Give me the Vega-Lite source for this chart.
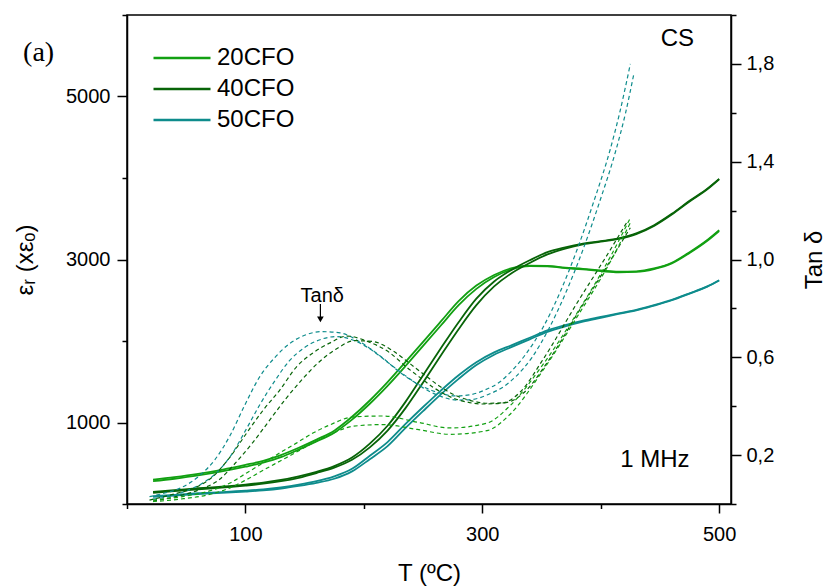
{
  "$schema": "https://vega.github.io/schema/vega-lite/v6.json",
  "width": 604,
  "height": 489,
  "autosize": {"type": "none"},
  "padding": {"left": 127, "top": 15, "right": 98, "bottom": 82},
  "background": "white",
  "config": {
    "font": "Liberation Sans",
    "view": {"stroke": "black", "strokeWidth": 1.5},
    "axis": {
      "grid": false,
      "domainColor": "black",
      "domainWidth": 1.5,
      "tickColor": "black",
      "tickWidth": 1.5,
      "labelFont": "Liberation Sans",
      "labelFontSize": 20,
      "labelColor": "black",
      "labelOverlap": false,
      "labelFlush": false,
      "titleFont": "Liberation Sans",
      "titleFontSize": 24,
      "titleFontWeight": "normal",
      "titleColor": "black"
    },
    "legend": {"labelFont": "Liberation Sans", "labelColor": "black"}
  },
  "datasets": {
    "eps": [
      {"s":"20CFO","r":"a","T":22,"e":300},{"s":"20CFO","r":"a","T":40,"e":330},{"s":"20CFO","r":"a","T":60,"e":370},{"s":"20CFO","r":"a","T":80,"e":420},{"s":"20CFO","r":"a","T":100,"e":480},{"s":"20CFO","r":"a","T":115,"e":530},{"s":"20CFO","r":"a","T":130,"e":600},{"s":"20CFO","r":"a","T":145,"e":690},{"s":"20CFO","r":"a","T":160,"e":790},{"s":"20CFO","r":"a","T":175,"e":900},{"s":"20CFO","r":"a","T":190,"e":1070},{"s":"20CFO","r":"a","T":205,"e":1270},{"s":"20CFO","r":"a","T":220,"e":1495},{"s":"20CFO","r":"a","T":235,"e":1740},{"s":"20CFO","r":"a","T":250,"e":1990},{"s":"20CFO","r":"a","T":265,"e":2240},{"s":"20CFO","r":"a","T":280,"e":2490},{"s":"20CFO","r":"a","T":295,"e":2680},{"s":"20CFO","r":"a","T":310,"e":2810},{"s":"20CFO","r":"a","T":325,"e":2895},{"s":"20CFO","r":"a","T":340,"e":2925},{"s":"20CFO","r":"a","T":355,"e":2920},{"s":"20CFO","r":"a","T":370,"e":2900},{"s":"20CFO","r":"a","T":385,"e":2885},{"s":"20CFO","r":"a","T":400,"e":2865},{"s":"20CFO","r":"a","T":415,"e":2850},{"s":"20CFO","r":"a","T":430,"e":2855},{"s":"20CFO","r":"a","T":445,"e":2890},{"s":"20CFO","r":"a","T":460,"e":2960},{"s":"20CFO","r":"a","T":475,"e":3090},{"s":"20CFO","r":"a","T":490,"e":3240},{"s":"20CFO","r":"a","T":500,"e":3360},
      {"s":"20CFO","r":"b","T":22,"e":280},{"s":"20CFO","r":"b","T":40,"e":310},{"s":"20CFO","r":"b","T":60,"e":350},{"s":"20CFO","r":"b","T":80,"e":400},{"s":"20CFO","r":"b","T":100,"e":458},{"s":"20CFO","r":"b","T":115,"e":508},{"s":"20CFO","r":"b","T":130,"e":575},{"s":"20CFO","r":"b","T":145,"e":668},{"s":"20CFO","r":"b","T":160,"e":768},{"s":"20CFO","r":"b","T":175,"e":875},{"s":"20CFO","r":"b","T":190,"e":1035},{"s":"20CFO","r":"b","T":205,"e":1230},{"s":"20CFO","r":"b","T":220,"e":1450},{"s":"20CFO","r":"b","T":235,"e":1690},{"s":"20CFO","r":"b","T":250,"e":1940},{"s":"20CFO","r":"b","T":265,"e":2190},{"s":"20CFO","r":"b","T":280,"e":2440},{"s":"20CFO","r":"b","T":295,"e":2640},{"s":"20CFO","r":"b","T":310,"e":2785},{"s":"20CFO","r":"b","T":325,"e":2880},{"s":"20CFO","r":"b","T":340,"e":2918},{"s":"20CFO","r":"b","T":355,"e":2915},{"s":"20CFO","r":"b","T":370,"e":2895},{"s":"20CFO","r":"b","T":385,"e":2878},{"s":"20CFO","r":"b","T":400,"e":2858},{"s":"20CFO","r":"b","T":415,"e":2843},{"s":"20CFO","r":"b","T":430,"e":2848},{"s":"20CFO","r":"b","T":445,"e":2883},{"s":"20CFO","r":"b","T":460,"e":2952},{"s":"20CFO","r":"b","T":475,"e":3080},{"s":"20CFO","r":"b","T":490,"e":3230},{"s":"20CFO","r":"b","T":500,"e":3350},
      {"s":"40CFO","r":"a","T":22,"e":150},{"s":"40CFO","r":"a","T":40,"e":170},{"s":"40CFO","r":"a","T":60,"e":193},{"s":"40CFO","r":"a","T":80,"e":213},{"s":"40CFO","r":"a","T":100,"e":238},{"s":"40CFO","r":"a","T":115,"e":262},{"s":"40CFO","r":"a","T":130,"e":295},{"s":"40CFO","r":"a","T":145,"e":340},{"s":"40CFO","r":"a","T":160,"e":395},{"s":"40CFO","r":"a","T":175,"e":465},{"s":"40CFO","r":"a","T":190,"e":570},{"s":"40CFO","r":"a","T":205,"e":740},{"s":"40CFO","r":"a","T":220,"e":960},{"s":"40CFO","r":"a","T":235,"e":1250},{"s":"40CFO","r":"a","T":250,"e":1580},{"s":"40CFO","r":"a","T":265,"e":1910},{"s":"40CFO","r":"a","T":280,"e":2230},{"s":"40CFO","r":"a","T":295,"e":2520},{"s":"40CFO","r":"a","T":310,"e":2730},{"s":"40CFO","r":"a","T":325,"e":2875},{"s":"40CFO","r":"a","T":340,"e":2990},{"s":"40CFO","r":"a","T":355,"e":3090},{"s":"40CFO","r":"a","T":370,"e":3150},{"s":"40CFO","r":"a","T":385,"e":3195},{"s":"40CFO","r":"a","T":400,"e":3225},{"s":"40CFO","r":"a","T":415,"e":3260},{"s":"40CFO","r":"a","T":430,"e":3320},{"s":"40CFO","r":"a","T":445,"e":3420},{"s":"40CFO","r":"a","T":460,"e":3560},{"s":"40CFO","r":"a","T":475,"e":3720},{"s":"40CFO","r":"a","T":490,"e":3870},{"s":"40CFO","r":"a","T":500,"e":3990},
      {"s":"40CFO","r":"b","T":22,"e":138},{"s":"40CFO","r":"b","T":40,"e":158},{"s":"40CFO","r":"b","T":60,"e":181},{"s":"40CFO","r":"b","T":80,"e":201},{"s":"40CFO","r":"b","T":100,"e":226},{"s":"40CFO","r":"b","T":115,"e":249},{"s":"40CFO","r":"b","T":130,"e":280},{"s":"40CFO","r":"b","T":145,"e":322},{"s":"40CFO","r":"b","T":160,"e":380},{"s":"40CFO","r":"b","T":175,"e":446},{"s":"40CFO","r":"b","T":190,"e":542},{"s":"40CFO","r":"b","T":205,"e":695},{"s":"40CFO","r":"b","T":220,"e":901},{"s":"40CFO","r":"b","T":235,"e":1173},{"s":"40CFO","r":"b","T":250,"e":1492},{"s":"40CFO","r":"b","T":265,"e":1822},{"s":"40CFO","r":"b","T":280,"e":2145},{"s":"40CFO","r":"b","T":295,"e":2440},{"s":"40CFO","r":"b","T":310,"e":2670},{"s":"40CFO","r":"b","T":325,"e":2835},{"s":"40CFO","r":"b","T":340,"e":2958},{"s":"40CFO","r":"b","T":355,"e":3063},{"s":"40CFO","r":"b","T":370,"e":3134},{"s":"40CFO","r":"b","T":385,"e":3185},{"s":"40CFO","r":"b","T":400,"e":3218},{"s":"40CFO","r":"b","T":415,"e":3253},{"s":"40CFO","r":"b","T":430,"e":3312},{"s":"40CFO","r":"b","T":445,"e":3412},{"s":"40CFO","r":"b","T":460,"e":3552},{"s":"40CFO","r":"b","T":475,"e":3712},{"s":"40CFO","r":"b","T":490,"e":3862},{"s":"40CFO","r":"b","T":500,"e":3985},
      {"s":"50CFO","r":"a","T":22,"e":97},{"s":"50CFO","r":"a","T":40,"e":112},{"s":"50CFO","r":"a","T":60,"e":132},{"s":"50CFO","r":"a","T":80,"e":146},{"s":"50CFO","r":"a","T":100,"e":163},{"s":"50CFO","r":"a","T":115,"e":180},{"s":"50CFO","r":"a","T":130,"e":205},{"s":"50CFO","r":"a","T":145,"e":238},{"s":"50CFO","r":"a","T":160,"e":280},{"s":"50CFO","r":"a","T":175,"e":340},{"s":"50CFO","r":"a","T":190,"e":432},{"s":"50CFO","r":"a","T":205,"e":592},{"s":"50CFO","r":"a","T":220,"e":760},{"s":"50CFO","r":"a","T":235,"e":980},{"s":"50CFO","r":"a","T":250,"e":1190},{"s":"50CFO","r":"a","T":265,"e":1392},{"s":"50CFO","r":"a","T":280,"e":1580},{"s":"50CFO","r":"a","T":295,"e":1740},{"s":"50CFO","r":"a","T":310,"e":1860},{"s":"50CFO","r":"a","T":325,"e":1950},{"s":"50CFO","r":"a","T":340,"e":2040},{"s":"50CFO","r":"a","T":355,"e":2130},{"s":"50CFO","r":"a","T":370,"e":2195},{"s":"50CFO","r":"a","T":385,"e":2250},{"s":"50CFO","r":"a","T":400,"e":2295},{"s":"50CFO","r":"a","T":415,"e":2340},{"s":"50CFO","r":"a","T":430,"e":2383},{"s":"50CFO","r":"a","T":445,"e":2440},{"s":"50CFO","r":"a","T":460,"e":2505},{"s":"50CFO","r":"a","T":475,"e":2585},{"s":"50CFO","r":"a","T":490,"e":2670},{"s":"50CFO","r":"a","T":500,"e":2745},
      {"s":"50CFO","r":"b","T":22,"e":88},{"s":"50CFO","r":"b","T":40,"e":103},{"s":"50CFO","r":"b","T":60,"e":122},{"s":"50CFO","r":"b","T":80,"e":136},{"s":"50CFO","r":"b","T":100,"e":153},{"s":"50CFO","r":"b","T":115,"e":168},{"s":"50CFO","r":"b","T":130,"e":190},{"s":"50CFO","r":"b","T":145,"e":222},{"s":"50CFO","r":"b","T":160,"e":260},{"s":"50CFO","r":"b","T":175,"e":310},{"s":"50CFO","r":"b","T":190,"e":400},{"s":"50CFO","r":"b","T":205,"e":550},{"s":"50CFO","r":"b","T":220,"e":710},{"s":"50CFO","r":"b","T":235,"e":930},{"s":"50CFO","r":"b","T":250,"e":1140},{"s":"50CFO","r":"b","T":265,"e":1345},{"s":"50CFO","r":"b","T":280,"e":1535},{"s":"50CFO","r":"b","T":295,"e":1705},{"s":"50CFO","r":"b","T":310,"e":1832},{"s":"50CFO","r":"b","T":325,"e":1928},{"s":"50CFO","r":"b","T":340,"e":2020},{"s":"50CFO","r":"b","T":355,"e":2112},{"s":"50CFO","r":"b","T":370,"e":2180},{"s":"50CFO","r":"b","T":385,"e":2238},{"s":"50CFO","r":"b","T":400,"e":2285},{"s":"50CFO","r":"b","T":415,"e":2332},{"s":"50CFO","r":"b","T":430,"e":2376},{"s":"50CFO","r":"b","T":445,"e":2435},{"s":"50CFO","r":"b","T":460,"e":2500},{"s":"50CFO","r":"b","T":475,"e":2582},{"s":"50CFO","r":"b","T":490,"e":2667},{"s":"50CFO","r":"b","T":500,"e":2743}
    ],
    "tan": [
      {"s":"50CFO","r":"a","T":19,"tan":0.03},{"s":"50CFO","r":"a","T":32,"tan":0.045},{"s":"50CFO","r":"a","T":45,"tan":0.065},{"s":"50CFO","r":"a","T":61,"tan":0.115},{"s":"50CFO","r":"a","T":74,"tan":0.18},{"s":"50CFO","r":"a","T":87,"tan":0.28},{"s":"50CFO","r":"a","T":99,"tan":0.4},{"s":"50CFO","r":"a","T":112,"tan":0.52},{"s":"50CFO","r":"a","T":125,"tan":0.6},{"s":"50CFO","r":"a","T":137,"tan":0.655},{"s":"50CFO","r":"a","T":150,"tan":0.69},{"s":"50CFO","r":"a","T":164,"tan":0.705},{"s":"50CFO","r":"a","T":180,"tan":0.7},{"s":"50CFO","r":"a","T":196,"tan":0.665},{"s":"50CFO","r":"a","T":216,"tan":0.597},{"s":"50CFO","r":"a","T":230,"tan":0.54},{"s":"50CFO","r":"a","T":247,"tan":0.487},{"s":"50CFO","r":"a","T":264,"tan":0.454},{"s":"50CFO","r":"a","T":277,"tan":0.442},{"s":"50CFO","r":"a","T":289,"tan":0.446},{"s":"50CFO","r":"a","T":302,"tan":0.466},{"s":"50CFO","r":"a","T":315,"tan":0.5},{"s":"50CFO","r":"a","T":323,"tan":0.535},{"s":"50CFO","r":"a","T":337,"tan":0.615},{"s":"50CFO","r":"a","T":351,"tan":0.72},{"s":"50CFO","r":"a","T":366,"tan":0.87},{"s":"50CFO","r":"a","T":380,"tan":1.04},{"s":"50CFO","r":"a","T":394,"tan":1.235},{"s":"50CFO","r":"a","T":408,"tan":1.45},{"s":"50CFO","r":"a","T":416,"tan":1.6},{"s":"50CFO","r":"a","T":425,"tan":1.8},
      {"s":"50CFO","r":"b","T":22,"tan":0.02},{"s":"50CFO","r":"b","T":35,"tan":0.03},{"s":"50CFO","r":"b","T":48,"tan":0.05},{"s":"50CFO","r":"b","T":62,"tan":0.08},{"s":"50CFO","r":"b","T":75,"tan":0.125},{"s":"50CFO","r":"b","T":88,"tan":0.2},{"s":"50CFO","r":"b","T":100,"tan":0.3},{"s":"50CFO","r":"b","T":112,"tan":0.405},{"s":"50CFO","r":"b","T":125,"tan":0.505},{"s":"50CFO","r":"b","T":137,"tan":0.585},{"s":"50CFO","r":"b","T":150,"tan":0.64},{"s":"50CFO","r":"b","T":163,"tan":0.672},{"s":"50CFO","r":"b","T":177,"tan":0.685},{"s":"50CFO","r":"b","T":190,"tan":0.672},{"s":"50CFO","r":"b","T":205,"tan":0.635},{"s":"50CFO","r":"b","T":220,"tan":0.58},{"s":"50CFO","r":"b","T":235,"tan":0.525},{"s":"50CFO","r":"b","T":250,"tan":0.475},{"s":"50CFO","r":"b","T":265,"tan":0.44},{"s":"50CFO","r":"b","T":279,"tan":0.425},{"s":"50CFO","r":"b","T":292,"tan":0.428},{"s":"50CFO","r":"b","T":305,"tan":0.448},{"s":"50CFO","r":"b","T":318,"tan":0.48},{"s":"50CFO","r":"b","T":328,"tan":0.52},{"s":"50CFO","r":"b","T":342,"tan":0.6},{"s":"50CFO","r":"b","T":356,"tan":0.715},{"s":"50CFO","r":"b","T":371,"tan":0.87},{"s":"50CFO","r":"b","T":385,"tan":1.04},{"s":"50CFO","r":"b","T":399,"tan":1.235},{"s":"50CFO","r":"b","T":413,"tan":1.45},{"s":"50CFO","r":"b","T":421,"tan":1.6},{"s":"50CFO","r":"b","T":428,"tan":1.76},
      {"s":"40CFO","r":"a","T":19,"tan":0.016},{"s":"40CFO","r":"a","T":40,"tan":0.041},{"s":"40CFO","r":"a","T":59,"tan":0.07},{"s":"40CFO","r":"a","T":72,"tan":0.11},{"s":"40CFO","r":"a","T":87,"tan":0.192},{"s":"40CFO","r":"a","T":101,"tan":0.29},{"s":"40CFO","r":"a","T":115,"tan":0.384},{"s":"40CFO","r":"a","T":129,"tan":0.466},{"s":"40CFO","r":"a","T":143,"tan":0.56},{"s":"40CFO","r":"a","T":157,"tan":0.618},{"s":"40CFO","r":"a","T":171,"tan":0.658},{"s":"40CFO","r":"a","T":186,"tan":0.687},{"s":"40CFO","r":"a","T":202,"tan":0.667},{"s":"40CFO","r":"a","T":222,"tan":0.618},{"s":"40CFO","r":"a","T":236,"tan":0.56},{"s":"40CFO","r":"a","T":247,"tan":0.519},{"s":"40CFO","r":"a","T":258,"tan":0.479},{"s":"40CFO","r":"a","T":273,"tan":0.438},{"s":"40CFO","r":"a","T":287,"tan":0.417},{"s":"40CFO","r":"a","T":300,"tan":0.409},{"s":"40CFO","r":"a","T":317,"tan":0.413},{"s":"40CFO","r":"a","T":332,"tan":0.458},{"s":"40CFO","r":"a","T":351,"tan":0.589},{"s":"40CFO","r":"a","T":380,"tan":0.822},{"s":"40CFO","r":"a","T":408,"tan":1.039},{"s":"40CFO","r":"a","T":423,"tan":1.16},
      {"s":"40CFO","r":"b","T":22,"tan":0.012},{"s":"40CFO","r":"b","T":45,"tan":0.035},{"s":"40CFO","r":"b","T":62,"tan":0.06},{"s":"40CFO","r":"b","T":78,"tan":0.1},{"s":"40CFO","r":"b","T":92,"tan":0.17},{"s":"40CFO","r":"b","T":106,"tan":0.25},{"s":"40CFO","r":"b","T":120,"tan":0.34},{"s":"40CFO","r":"b","T":134,"tan":0.43},{"s":"40CFO","r":"b","T":148,"tan":0.51},{"s":"40CFO","r":"b","T":162,"tan":0.58},{"s":"40CFO","r":"b","T":177,"tan":0.635},{"s":"40CFO","r":"b","T":192,"tan":0.668},{"s":"40CFO","r":"b","T":207,"tan":0.665},{"s":"40CFO","r":"b","T":225,"tan":0.625},{"s":"40CFO","r":"b","T":240,"tan":0.57},{"s":"40CFO","r":"b","T":252,"tan":0.525},{"s":"40CFO","r":"b","T":263,"tan":0.485},{"s":"40CFO","r":"b","T":277,"tan":0.445},{"s":"40CFO","r":"b","T":291,"tan":0.422},{"s":"40CFO","r":"b","T":305,"tan":0.412},{"s":"40CFO","r":"b","T":320,"tan":0.415},{"s":"40CFO","r":"b","T":335,"tan":0.455},{"s":"40CFO","r":"b","T":355,"tan":0.58},{"s":"40CFO","r":"b","T":383,"tan":0.8},{"s":"40CFO","r":"b","T":410,"tan":1.01},{"s":"40CFO","r":"b","T":425,"tan":1.13},
      {"s":"20CFO","r":"a","T":22,"tan":0.016},{"s":"20CFO","r":"a","T":45,"tan":0.029},{"s":"20CFO","r":"a","T":72,"tan":0.057},{"s":"20CFO","r":"a","T":87,"tan":0.086},{"s":"20CFO","r":"a","T":101,"tan":0.127},{"s":"20CFO","r":"a","T":115,"tan":0.168},{"s":"20CFO","r":"a","T":129,"tan":0.209},{"s":"20CFO","r":"a","T":143,"tan":0.249},{"s":"20CFO","r":"a","T":157,"tan":0.29},{"s":"20CFO","r":"a","T":171,"tan":0.323},{"s":"20CFO","r":"a","T":191,"tan":0.356},{"s":"20CFO","r":"a","T":216,"tan":0.36},{"s":"20CFO","r":"a","T":245,"tan":0.335},{"s":"20CFO","r":"a","T":273,"tan":0.311},{"s":"20CFO","r":"a","T":304,"tan":0.331},{"s":"20CFO","r":"a","T":323,"tan":0.4},{"s":"20CFO","r":"a","T":351,"tan":0.569},{"s":"20CFO","r":"a","T":380,"tan":0.781},{"s":"20CFO","r":"a","T":408,"tan":1.01},{"s":"20CFO","r":"a","T":425,"tan":1.17},
      {"s":"20CFO","r":"b","T":22,"tan":0.01},{"s":"20CFO","r":"b","T":45,"tan":0.02},{"s":"20CFO","r":"b","T":72,"tan":0.042},{"s":"20CFO","r":"b","T":87,"tan":0.066},{"s":"20CFO","r":"b","T":101,"tan":0.1},{"s":"20CFO","r":"b","T":115,"tan":0.138},{"s":"20CFO","r":"b","T":129,"tan":0.175},{"s":"20CFO","r":"b","T":143,"tan":0.212},{"s":"20CFO","r":"b","T":157,"tan":0.25},{"s":"20CFO","r":"b","T":171,"tan":0.283},{"s":"20CFO","r":"b","T":191,"tan":0.318},{"s":"20CFO","r":"b","T":216,"tan":0.325},{"s":"20CFO","r":"b","T":245,"tan":0.305},{"s":"20CFO","r":"b","T":273,"tan":0.285},{"s":"20CFO","r":"b","T":304,"tan":0.3},{"s":"20CFO","r":"b","T":323,"tan":0.365},{"s":"20CFO","r":"b","T":351,"tan":0.545},{"s":"20CFO","r":"b","T":380,"tan":0.765},{"s":"20CFO","r":"b","T":408,"tan":0.99},{"s":"20CFO","r":"b","T":425,"tan":1.15}
    ]
  },
  "encoding": {
    "x": {
      "field": "T",
      "type": "quantitative",
      "scale": {"domain": [0, 510], "nice": false, "zero": false},
      "axis": {
        "values": [0, 100, 200, 300, 400, 500],
        "labelExpr": "datum.value % 200 == 100 ? datum.label : ''",
        "tickSize": {"condition": {"test": "datum.value % 200 == 100", "value": 9}, "value": 4.5},
        "labelPadding": 11,
        "title": "T (ºC)",
        "titleX": 302,
        "titleY": 76,
        "titleAlign": "center",
        "titleBaseline": "alphabetic"
      }
    }
  },
  "layer": [
    {
      "encoding": {
        "y": {
          "field": "e",
          "type": "quantitative",
          "scale": {"domain": [0, 6000], "nice": false, "zero": false},
          "axis": {
            "orient": "left",
            "values": [0, 1000, 2000, 3000, 4000, 5000, 6000],
            "format": "d",
            "labelExpr": "datum.value % 2000 == 1000 ? datum.label : ''",
            "tickSize": {"condition": {"test": "datum.value % 2000 == 1000", "value": 10}, "value": 5},
            "labelPadding": 7,
            "title": "εᵣ (xεₒ)",
            "titleAngle": -90,
            "titleX": -95,
            "titleY": 244.5,
            "titleAlign": "center",
            "titleBaseline": "alphabetic"
          }
        }
      },
      "layer": [
        {
          "data": {"name": "eps"},
          "mark": {"type": "line", "strokeWidth": 1.8, "interpolate": "monotone"},
          "encoding": {
            "color": {
              "field": "s",
              "type": "nominal",
              "scale": {"domain": ["20CFO", "40CFO", "50CFO"], "range": ["#12a012", "#086408", "#0e8c8c"]},
              "legend": {
                "orient": "none",
                "legendX": 25,
                "legendY": 33,
                "title": null,
                "padding": 0,
                "symbolType": "stroke",
                "symbolSize": 3249,
                "symbolStrokeWidth": 2.5,
                "clipHeight": 20,
                "rowPadding": 7,
                "labelFontSize": 24,
                "labelOffset": 5
              }
            },
            "detail": {"field": "r"}
          }
        },
        {
          "data": {"values": [{"T": -74.6, "e": 5440, "label": "(a)"}]},
          "mark": {"type": "text", "font": "Liberation Serif", "fontSize": 28, "align": "center", "baseline": "alphabetic", "color": "black", "clip": false},
          "encoding": {"text": {"field": "label"}}
        },
        {
          "data": {"values": [{"T": 464.7, "e": 5620, "label": "CS"}, {"T": 445.7, "e": 450, "label": "1 MHz"}]},
          "mark": {"type": "text", "fontSize": 24, "align": "center", "baseline": "alphabetic", "color": "black"},
          "encoding": {"text": {"field": "label"}}
        }
      ]
    },
    {
      "encoding": {
        "y": {
          "field": "tan",
          "type": "quantitative",
          "scale": {"domain": [0, 2], "nice": false, "zero": false},
          "axis": {
            "orient": "right",
            "values": [0, 0.2, 0.4, 0.6, 0.8, 1.0, 1.2, 1.4, 1.6, 1.8, 2.0],
            "labelExpr": "round(datum.value*10) % 4 == 2 ? replace(format(datum.value, '.1f'), '.', ',') : ''",
            "tickSize": {"condition": {"test": "round(datum.value*10) % 4 == 2", "value": 10}, "value": 5},
            "labelPadding": 5,
            "title": "Tan δ",
            "titleAngle": -90,
            "titleX": 90,
            "titleY": 244.5,
            "titleAlign": "center",
            "titleBaseline": "alphabetic"
          }
        }
      },
      "layer": [
        {
          "data": {"name": "tan"},
          "mark": {"type": "line", "strokeWidth": 1.2, "strokeDash": [4, 3], "interpolate": "monotone"},
          "encoding": {
            "color": {"field": "s", "type": "nominal", "legend": null},
            "detail": {"field": "r"}
          }
        },
        {
          "data": {"values": [{"T": 164.9, "tan": 0.827, "label": "Tanδ"}]},
          "mark": {"type": "text", "fontSize": 20, "align": "center", "baseline": "alphabetic", "color": "black"},
          "encoding": {"text": {"field": "label"}}
        },
        {
          "data": {"values": [{"T": 163.3, "tan": 0.818, "tan2": 0.765}]},
          "mark": {"type": "rule", "strokeWidth": 1.2, "color": "black"},
          "encoding": {"y2": {"field": "tan2"}}
        },
        {
          "data": {"values": [{"T": 163.3, "tan": 0.755}]},
          "mark": {"type": "point", "shape": "triangle-down", "filled": true, "size": 45, "color": "black", "opacity": 1},
          "encoding": {}
        }
      ]
    }
  ],
  "resolve": {"scale": {"y": "independent"}}
}
